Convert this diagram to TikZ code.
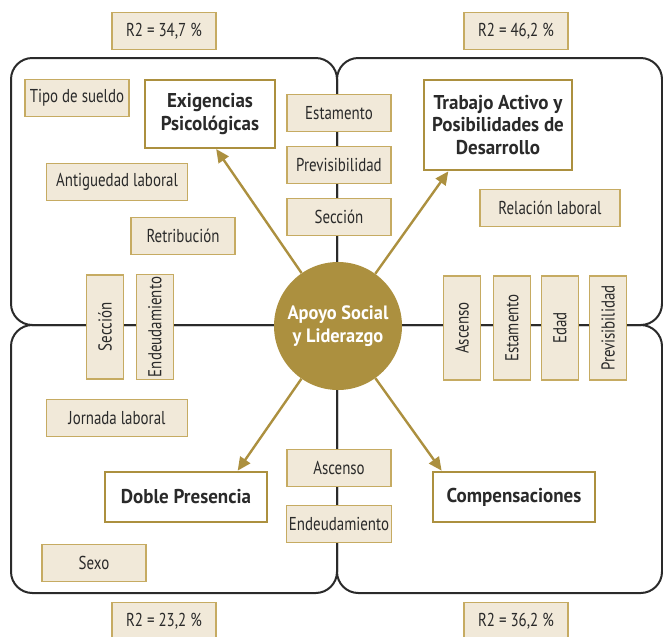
\documentclass[tikz,border=0pt]{standalone}
\usepackage{fontspec}
\setmainfont{PT Sans}[FakeStretch=0.8]
\newfontfamily\titlefont{PT Sans}[FakeStretch=0.95]
\usetikzlibrary{arrows.meta, positioning, shapes}
\definecolor{gold}{HTML}{AC903F}
\definecolor{cream}{HTML}{F1E9D9}
\definecolor{tanline}{HTML}{C6AB62}
\definecolor{ink}{HTML}{2A2A2A}

\begin{document}
\begin{tikzpicture}[x=0.75pt, y=-0.75pt,
    quad/.style={draw=ink, line width=1.5pt, rounded corners=16pt},
    factor/.style={draw=tanline, fill=cream, line width=1pt, text=ink, minimum width=78pt, minimum height=28pt, inner sep=2pt, font=\fontsize{14}{16}\selectfont},
    vfactor/.style={factor, rotate=90},
    dimbox/.style={draw=gold, fill=white, line width=1.5pt, text=ink, align=center, inner sep=2pt, font=\titlefont\fontsize{15}{17}\selectfont\bfseries},
    hub/.style={circle, fill=gold, minimum size=96pt, text=white, align=center, font=\titlefont\fontsize{14.5}{17}\selectfont\bfseries},
    link/.style={draw=gold, line width=1.8pt, -{Triangle[length=10pt, width=9pt]}}]
    \useasboundingbox (0,0) rectangle (663,636);
    \draw[quad] (11,58) rectangle (337,325);
    \draw[quad] (337,58) rectangle (662,325);
    \draw[quad] (11,325) rectangle (337,593);
    \draw[quad] (337,325) rectangle (662,593);

    \node[factor] (r2a) at (164,31) {R2 = 34,7 \%};
    \node[factor] (r2b) at (516,31) {R2 = 46,2 \%};
    \node[factor] (r2c) at (164,621) {R2 = 23,2 \%};
    \node[factor] (r2d) at (516,621) {R2 = 36,2 \%};

    \node[dimbox, minimum width=98pt, minimum height=51pt] (exig) at (210,114) {Exigencias\\Psicológicas};
    \node[dimbox, minimum width=111pt, minimum height=68pt] (trab) at (498,125) {Trabajo Activo y\\Posibilidades de\\Desarrollo};
    \node[dimbox, minimum width=121pt, minimum height=38pt] (doble) at (186,497) {Doble Presencia};
    \node[dimbox, minimum width=121pt, minimum height=38pt] (comp) at (514,497) {Compensaciones};

    \node[factor] (sueldo) at (77,98) {Tipo de sueldo};
    \node[factor, minimum width=106pt] (antig) at (117,182) {Antiguedad laboral};
    \node[factor] (retrib) at (183,236) {Retribución};
    \node[vfactor] (seccA) at (105,327) {Sección};
    \node[vfactor] (endeA) at (155,327) {Endeudamiento};

    \node[factor] (estC) at (339,113) {Estamento};
    \node[factor, below=10pt of estC] (prevC) {Previsibilidad};
    \node[factor, below=10pt of prevC] (seccC) {Sección};
    \node[factor] (ascC) at (339,468) {Ascenso};
    \node[factor, below=13pt of ascC] (endeC) {Endeudamiento};

    \node[factor, minimum width=105pt] (relac) at (550,208) {Relación laboral};
    \node[vfactor] (ascB) at (462,328) {Ascenso};
    \node[vfactor] (estB) at (512,328) {Estamento};
    \node[vfactor] (edadB) at (560,328) {Edad};
    \node[vfactor] (prevB) at (608,328) {Previsibilidad};

    \node[factor, minimum width=106pt] (jorn) at (117,418) {Jornada laboral};
    \node[factor] (sexo) at (94,563) {Sexo};

    \node[hub] (hub) at (338,326) {Apoyo Social\\y Liderazgo};

    \draw[link] (hub) -- (exig.-80);
    \draw[link] (hub) -- (trab.-137);
    \draw[link] (hub) -- (doble.27);
    \draw[link] (hub) -- (comp.160);
\end{tikzpicture}
\end{document}
